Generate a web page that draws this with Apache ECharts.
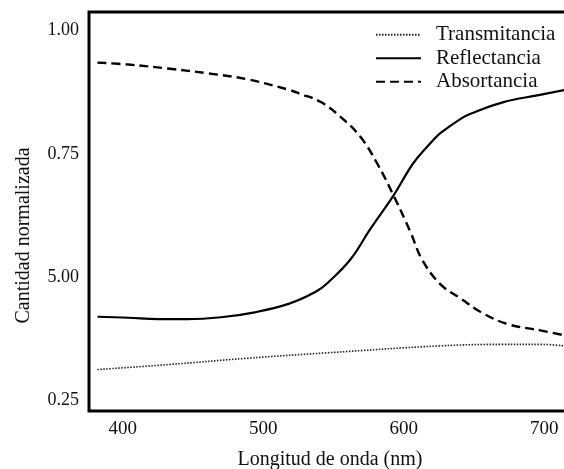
<!DOCTYPE html>
<html>
<head>
<meta charset="utf-8">
<script src="https://cdn.jsdelivr.net/npm/echarts@6/dist/echarts.min.js"></script>
<style>
  html, body { margin: 0; padding: 0; background: #fff; }
  #chart { width: 564px; height: 469px; }
</style>
</head>
<body>
<div id="chart"></div>
<script>
// Wavelength (nm) and normalized amounts for each curve
const absWl = [382, 404, 432, 461, 489, 518, 526, 541, 555, 569, 581, 593, 605, 613, 626, 641, 655, 674, 698, 715];
const absVals = [0.935, 0.931, 0.923, 0.913, 0.901, 0.880, 0.872, 0.855, 0.825, 0.785, 0.731, 0.664, 0.590, 0.536, 0.486, 0.456, 0.429, 0.405, 0.392, 0.382];

const refWl = [382, 404, 425, 446, 470, 494, 518, 537, 546, 562, 576, 593, 607, 621, 626, 641, 648, 671, 696, 715];
const refVals = [0.420, 0.418, 0.415, 0.415, 0.419, 0.429, 0.446, 0.470, 0.489, 0.536, 0.597, 0.667, 0.732, 0.778, 0.792, 0.822, 0.832, 0.855, 0.869, 0.880];

const traWl = [382, 432, 489, 546, 626, 669, 698, 714];
const traVals = [0.313, 0.323, 0.336, 0.347, 0.361, 0.364, 0.364, 0.361];

// Axis ticks and their printed labels
const xTickValues = [400, 500, 600, 700];
const yTickValues = [0.25, 0.5, 0.75, 1.0];
const yTickLabels = ['0.25', '5.00', '0.75', '1.00'];

const seriesNames = ['Transmitancia', 'Reflectancia', 'Absortancia'];

const pairs = (xs, ys) => xs.map((x, i) => [x, ys[i]]);

const serif = 'Liberation Serif';
const ink = '#000';

const chart = echarts.init(document.getElementById('chart'), null, { renderer: 'canvas' });

chart.setOption({
  backgroundColor: '#fff',
  animation: false,
  grid: {
    left: 89, top: 12, width: 482, height: 399,
    outerBoundsMode: 'none',
    show: true, borderColor: ink, borderWidth: 3,
    containLabel: false
  },
  legend: {
    orient: 'vertical',
    left: 370, top: 19,
    itemWidth: 45, itemHeight: 14, itemGap: 2,
    // keep only the line sample in each legend entry
    itemStyle: { color: 'rgba(0,0,0,0)', borderWidth: 0, opacity: 0 },
    textStyle: {
      fontFamily: serif, fontSize: 21, color: '#111',
      lineHeight: 21.5, padding: [0, 0, 0, 10]
    },
    data: seriesNames
  },
  xAxis: {
    type: 'value',
    min: 376, max: 719,
    name: 'Longitud de onda (nm)',
    nameLocation: 'middle',
    nameGap: 39,
    nameTextStyle: { fontFamily: serif, fontSize: 20, color: '#111' },
    axisLine: { show: false },
    axisTick: { show: false },
    splitLine: { show: false },
    axisLabel: {
      customValues: xTickValues,
      fontFamily: serif, fontSize: 19, color: '#111', margin: 9
    }
  },
  yAxis: {
    type: 'value',
    min: 0.229, max: 1.0375,
    name: 'Cantidad normalizada',
    nameLocation: 'middle',
    nameRotate: 90,
    nameGap: 55,
    nameTextStyle: {
      fontFamily: serif, fontSize: 20, color: '#111',
      padding: [0, 48, 0, 0]
    },
    axisLine: { show: false },
    axisTick: { show: false },
    splitLine: { show: false },
    axisLabel: {
      customValues: yTickValues,
      formatter: v => {
        const i = yTickValues.findIndex(t => Math.abs(t - v) < 1e-6);
        return i >= 0 ? yTickLabels[i] : '';
      },
      fontFamily: serif, fontSize: 18, color: '#111', margin: 10
    }
  },
  series: [
    {
      name: seriesNames[0], type: 'line', symbol: 'none', smooth: 0.4,
      data: pairs(traWl, traVals),
      lineStyle: { color: '#222', width: 1.6, type: [1.5, 1.5] },
      itemStyle: { color: '#222' }
    },
    {
      name: seriesNames[1], type: 'line', symbol: 'none', smooth: 0.4,
      data: pairs(refWl, refVals),
      lineStyle: { color: ink, width: 2.2, type: 'solid' },
      itemStyle: { color: ink }
    },
    {
      name: seriesNames[2], type: 'line', symbol: 'none', smooth: 0.4,
      data: pairs(absWl, absVals),
      lineStyle: { color: ink, width: 2.4, type: [9, 5] },
      itemStyle: { color: ink }
    }
  ]
});
</script>
</body>
</html>
